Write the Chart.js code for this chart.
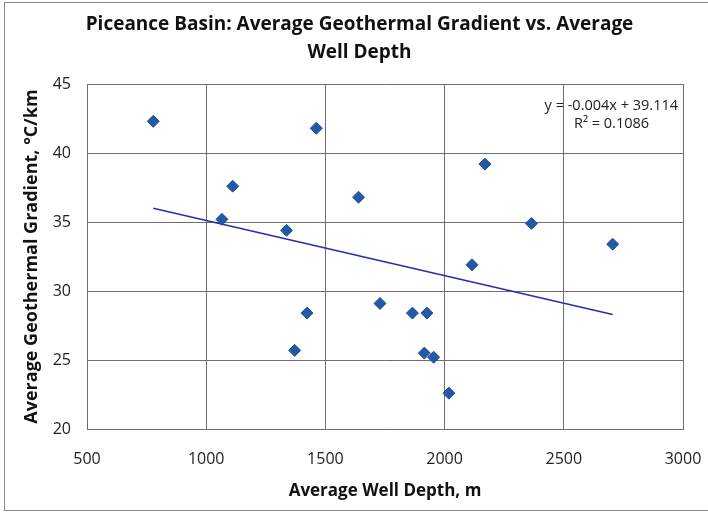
<!DOCTYPE html>
<html>
<head>
<meta charset="utf-8">
<script src="https://cdn.jsdelivr.net/npm/chart.js@4/dist/chart.umd.min.js"></script>
<style>
  html, body { margin: 0; padding: 0; background: #fff; }
  #wrap { width: 708px; height: 516px; }
</style>
</head>
<body>
<div id="wrap"><canvas id="myChart" width="708" height="516"></canvas></div>
<script>
// data
const wellDepth = [778, 1462, 1111, 1639, 1066, 1337, 1729, 1423, 1371, 2169, 2364, 2705, 2115, 1865, 1926, 1915, 1954, 2018];
const gradient  = [42.3, 41.8, 37.6, 36.8, 35.2, 34.4, 29.1, 28.4, 25.7, 39.2, 34.9, 33.4, 31.9, 28.4, 28.4, 25.5, 25.2, 22.6];
const trendX = [778, 2705];
const trendY = [36.0, 28.3];
const xTicks = [500, 1000, 1500, 2000, 2500, 3000];
const yTicks = [20, 25, 30, 35, 40, 45];
const eqLines = ['y = -0.004x + 39.114', 'R\u00B2 = 0.1086'];

const points = wellDepth.map(function(d, i) { return { x: d, y: gradient[i] }; });
const trend = trendX.map(function(d, i) { return { x: d, y: trendY[i] }; });

const fontFam = "'Open Sans', 'Noto Sans', sans-serif";

// outer frame + equation label
const extras = {
    id: 'extras',
    afterDraw: function(c) {
        const ctx = c.ctx;
        const a = c.chartArea;
        ctx.save();
        ctx.strokeStyle = '#8a8a8a';
        ctx.lineWidth = 1;
        ctx.strokeRect(4.5, 2.5, 720, 508);
        ctx.fillStyle = '#222';
        ctx.font = '14.5px ' + fontFam;
        ctx.textAlign = 'right';
        ctx.textBaseline = 'middle';
        ctx.fillText(eqLines[0], a.right - 5, a.top + 22);
        ctx.textAlign = 'left';
        ctx.fillText(eqLines[1], a.right - 109, a.top + 40);
        ctx.restore();
    }
};

new Chart(document.getElementById('myChart'), {
    type: 'scatter',
    data: {
        datasets: [{
            label: 'Wells',
            data: points,
            pointStyle: 'rectRot',
            pointRadius: 6,
            backgroundColor: '#2459a8',
            borderColor: '#1e4f99',
            borderWidth: 1
        }, {
            label: 'Trend',
            type: 'line',
            data: trend,
            borderColor: '#2331a8',
            borderWidth: 1.6,
            pointRadius: 0,
            fill: false
        }]
    },
    options: {
        responsive: false,
        animation: false,
        layout: { padding: { left: 11, right: 0, top: 0, bottom: 0 } },
        plugins: {
            legend: { display: false },
            tooltip: { enabled: false },
            title: {
                display: true,
                text: ['Piceance Basin: Average Geothermal Gradient vs. Average', 'Well Depth'],
                color: '#111',
                font: { family: fontFam, size: 19, weight: 'bold', lineHeight: 1.45 },
                padding: { top: 11, bottom: 18 }
            }
        },
        scales: {
            x: {
                type: 'linear',
                min: 500, max: 3000,
                afterBuildTicks: function(s) { s.ticks = xTicks.map(function(v) { return { value: v }; }); },
                grid: { color: '#6e6e6e', lineWidth: 1, drawTicks: false },
                border: { color: '#6e6e6e' },
                // tall line height pushes the labels down without adding side padding
                ticks: { color: '#222', font: { family: fontFam, size: 16, lineHeight: 3.25 }, padding: 4,
                    callback: function(v) { return String(v); } },
                title: { display: true, text: 'Average Well Depth, m', color: '#111',
                    font: { family: fontFam, size: 17, weight: 'bold' }, padding: { top: 0, bottom: 15 } },
                afterFit: function(s) { s.height = 87; }
            },
            y: {
                type: 'linear',
                min: 20, max: 45,
                afterBuildTicks: function(s) { s.ticks = yTicks.map(function(v) { return { value: v }; }); },
                grid: { color: '#6e6e6e', lineWidth: 1, drawTicks: false },
                border: { color: '#6e6e6e' },
                ticks: { color: '#222', font: { family: fontFam, size: 16 }, padding: 16,
                    callback: function(v) { return String(v); } },
                title: { display: true, text: 'Average Geothermal Gradient, \u00B0C/km', color: '#111',
                    font: { family: fontFam, size: 18, weight: 'bold' }, padding: { top: 10, bottom: 0 } },
                afterFit: function(s) { s.width = 76; }
            },
            // empty right axis, only keeps the right margin
            yRight: {
                position: 'right',
                display: true,
                grid: { display: false, drawTicks: false },
                border: { display: false },
                ticks: { display: false },
                afterFit: function(s) { s.width = 25; }
            }
        }
    },
    plugins: [extras]
});
</script>
</body>
</html>
